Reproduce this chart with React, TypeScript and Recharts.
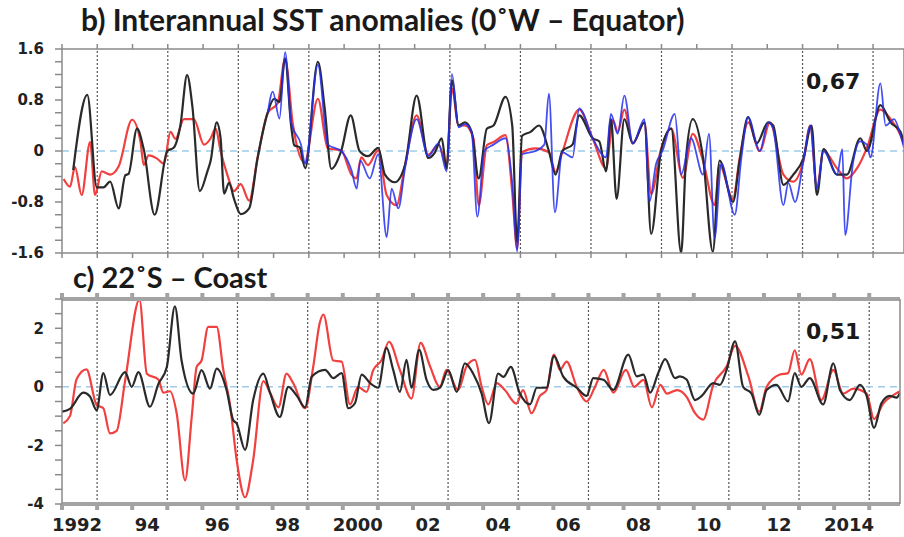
import React from 'react';
import { LineChart, Line, XAxis, YAxis, ReferenceLine } from 'recharts';

type Pt = [number, number];

// time axis (decimal years)
const X_START = 1991.573;
const X_END = 2015.45;

const labelYears = [1992, 1994, 1996, 1998, 2000, 2002, 2004, 2006, 2008, 2010, 2012, 2014];
const yearLabels = ['1992', '94', '96', '98', '2000', '02', '04', '06', '08', '10', '12', '2014'];

const topTicks = [-1.6, -1.4, -1.2, -1, -0.8, -0.6, -0.4, -0.2, 0, 0.2, 0.4, 0.6, 0.8, 1, 1.2, 1.4, 1.6];
const topMajor = [-1.6, -0.8, 0, 0.8, 1.6];
const botTicks = [-4, -3.5, -3, -2.5, -2, -1.5, -1, -0.5, 0, 0.5, 1, 1.5, 2, 2.5, 3];
const botMajor = [-4, -2, 0, 2];

// b) 0°W - Equator
const topBlack: Pt[] = [
  [1991.89, -0.3], [1992.29, 0.88], [1992.56, -0.57], [1992.75, -0.57], [1992.94, -0.48], [1993.18, -0.9],
  [1993.37, -0.38], [1993.46, -0.36], [1993.7, 0.35], [1993.89, 0.03], [1994.2, -1.0], [1994.56, 0],
  [1994.74, 0.05], [1994.93, 0.4], [1995.12, 1.19], [1995.27, 0.7], [1995.48, -0.63], [1995.69, -0.33],
  [1995.79, -0.15], [1995.96, 0.45], [1996.07, 0.2], [1996.17, -0.67], [1996.31, -0.5], [1996.45, -0.75],
  [1996.64, -0.99], [1996.88, -0.9], [1997.12, -0.11], [1997.41, 0.61], [1997.59, 0.82], [1997.74, 0.77],
  [1997.9, 1.45], [1998.07, 0.4], [1998.16, 0.09], [1998.31, 0.06], [1998.47, -0.27], [1998.83, 1.4],
  [1999.02, 0.68], [1999.21, -0.28], [1999.49, 0.0], [1999.76, 0.56], [2000.01, 0], [2000.25, -0.08],
  [2000.54, 0.05], [2000.73, -0.37], [2001.01, -0.49], [2001.3, -0.22], [2001.63, 0.87], [2001.96, -0.11],
  [2002.15, -0.02], [2002.34, 0.2], [2002.48, -0.28], [2002.63, 1.11], [2002.82, 0.4], [2003.0, 0.45],
  [2003.19, 0.3], [2003.39, -0.43], [2003.62, 0.35], [2003.81, 0.4], [2004.15, 0.85], [2004.34, 0.4],
  [2004.48, -1.43], [2004.62, 0.24], [2004.86, 0.3], [2005.1, 0.4], [2005.38, 0], [2005.57, -0.37],
  [2005.76, 0], [2006.05, 0.1], [2006.24, 0.56], [2006.62, 0.2], [2006.81, 0.15], [2007.0, -0.32],
  [2007.14, 0.5], [2007.3, -0.75], [2007.52, 0.5], [2007.76, 0.12], [2008.09, 0.45], [2008.28, -1.3],
  [2008.56, 0], [2008.85, 0.35], [2009.13, -1.6], [2009.27, -0.1], [2009.46, 0.5], [2009.75, -0.1],
  [2010.03, -1.58], [2010.22, -0.15], [2010.6, -0.8], [2010.79, -0.15], [2011.03, 0.53], [2011.27, 0.12],
  [2011.6, 0.45], [2011.74, 0.4], [2012.03, -0.53], [2012.31, -0.37], [2012.6, -0.11], [2012.83, 0.4],
  [2012.98, -0.69], [2013.17, 0.03], [2013.55, -0.37], [2013.83, -0.37], [2014.21, 0.2], [2014.4, 0],
  [2014.78, 0.72], [2015.07, 0.45], [2015.35, 0.3], [2015.45, 0.1],
];

const topRed: Pt[] = [
  [1991.62, -0.44], [1991.8, -0.56], [1991.94, -0.25], [1992.13, -0.69], [1992.37, 0.14], [1992.51, -0.69],
  [1992.7, -0.32], [1992.94, -0.37], [1993.18, -0.24], [1993.56, 0.49], [1993.8, 0.14], [1993.89, -0.22],
  [1994.03, -0.07], [1994.27, -0.12], [1994.46, -0.2], [1994.65, 0.3], [1994.79, 0.19], [1995.03, 0.5],
  [1995.31, 0.5], [1995.6, 0.1], [1995.79, 0.2], [1995.93, 0.35], [1996.07, 0], [1996.26, -0.37],
  [1996.45, -0.63], [1996.64, -0.52], [1996.88, -0.78], [1997.12, -0.1], [1997.41, 0.6], [1997.69, 0.75],
  [1997.9, 1.45], [1998.12, 0.42], [1998.45, -0.18], [1998.83, 0.82], [1999.11, 0.04], [1999.49, 0.01],
  [1999.78, -0.37], [1999.92, -0.43], [2000.06, -0.1], [2000.25, -0.22], [2000.54, 0.01], [2000.78, -0.69],
  [2001.06, -0.85], [2001.3, -0.22], [2001.63, 0.56], [2001.96, -0.06], [2002.25, 0.1], [2002.48, -0.22],
  [2002.63, 0.98], [2002.82, 0.4], [2003.0, 0.4], [2003.24, 0.2], [2003.39, -0.85], [2003.62, 0.09],
  [2003.81, 0.14], [2004.15, 0.25], [2004.34, -0.64], [2004.48, -1.53], [2004.62, -0.02], [2005.0, 0.04],
  [2005.38, -0.02], [2005.57, -0.33], [2005.76, -0.02], [2006.24, 0.65], [2006.62, 0.2], [2007.0, -0.27],
  [2007.2, 0.48], [2007.33, 0.3], [2007.52, 0.65], [2007.76, 0.12], [2008.09, 0.45], [2008.28, -0.67],
  [2008.56, 0.03], [2008.85, 0.35], [2009.18, -0.42], [2009.46, 0.27], [2009.75, -0.15], [2010.08, -0.85],
  [2010.22, -0.22], [2010.6, -0.75], [2010.79, -0.11], [2011.03, 0.45], [2011.36, 0.0], [2011.65, 0.45],
  [2012.03, -0.37], [2012.31, -0.48], [2012.6, -0.15], [2012.79, 0.4], [2012.98, -0.57], [2013.17, 0],
  [2013.55, -0.27], [2013.83, -0.43], [2014.12, -0.27], [2014.4, 0.05], [2014.78, 0.65], [2015.07, 0.5],
  [2015.35, 0.25], [2015.45, 0.1],
];

const topBlue: Pt[] = [
  [1997.41, 0.6], [1997.55, 0.93], [1997.74, 0.51], [1997.9, 1.55], [1998.07, 0.45], [1998.35, 0.1],
  [1998.47, -0.2], [1998.83, 1.35], [1999.11, 0.1], [1999.49, 0.0], [1999.78, -0.3], [1999.93, -0.59],
  [2000.03, -0.15], [2000.3, -0.43], [2000.54, -0.05], [2000.78, -1.35], [2000.92, -0.59], [2001.11, -0.9],
  [2001.3, -0.27], [2001.63, 0.5], [2001.96, -0.08], [2002.25, 0.12], [2002.48, -0.32], [2002.63, 1.21],
  [2002.82, 0.37], [2003.0, 0.42], [2003.19, 0.3], [2003.35, -1.03], [2003.55, 0.0], [2003.81, 0.1],
  [2004.15, 0.2], [2004.34, -0.5], [2004.48, -1.58], [2004.62, -0.05], [2005.0, 0.0], [2005.25, 0.1],
  [2005.38, 0.9], [2005.55, -0.96], [2005.76, -0.02], [2006.05, -0.1], [2006.24, 0.67], [2006.62, 0.2],
  [2007.0, -0.1], [2007.14, 0.58], [2007.33, 0.27], [2007.52, 0.87], [2007.76, 0.12], [2008.09, 0.5],
  [2008.23, -0.8], [2008.42, -0.2], [2008.6, 0.0], [2008.95, 0.58], [2009.13, -0.37], [2009.41, 0.2],
  [2009.75, -0.37], [2009.92, 0.27], [2010.08, -1.37], [2010.27, -0.2], [2010.65, -1.0], [2010.84, -0.1],
  [2011.03, 0.53], [2011.36, 0.0], [2011.6, 0.45], [2011.74, 0.35], [2012.03, -0.85], [2012.17, -0.5],
  [2012.36, -0.8], [2012.6, -0.15], [2012.79, 0.4], [2012.98, -0.6], [2013.17, 0.0], [2013.55, -0.37],
  [2013.7, 0.03], [2013.78, -1.32], [2014.0, -0.2], [2014.21, 0.15], [2014.4, 0.1], [2014.5, -0.1],
  [2014.78, 1.06], [2014.93, 0.4], [2015.17, 0.5], [2015.35, 0.25], [2015.45, 0.05],
];

// c) 22°S - Coast
const botBlack: Pt[] = [
  [1991.57, -0.85], [1991.8, -0.75], [1992.18, -0.2], [1992.37, -0.33], [1992.56, -0.8], [1992.75, 0.47],
  [1992.94, -0.28], [1993.37, 0.5], [1993.56, 0.0], [1993.75, 0.5], [1994.08, -0.68], [1994.32, 0.1],
  [1994.56, 0.68], [1994.79, 2.75], [1994.98, 0.9], [1995.31, -0.23], [1995.55, 0.57], [1995.79, -0.06],
  [1995.98, 0.62], [1996.26, -0.1], [1996.45, -1.13], [1996.55, -1.25], [1996.79, -2.15], [1997.02, -0.45],
  [1997.31, 0.45], [1997.5, -0.2], [1997.78, -1.03], [1998.02, 0.0], [1998.26, -0.3], [1998.5, -0.7],
  [1998.69, 0.35], [1999.07, 0.58], [1999.3, 0.3], [1999.54, 0.47], [1999.73, -0.73], [1999.92, -0.56],
  [2000.11, 0.42], [2000.35, 0.13], [2000.58, -0.03], [2000.82, 1.33], [2001.01, 0.58], [2001.2, -0.17],
  [2001.39, 0.92], [2001.53, -0.03], [2001.75, 1.26], [2001.96, 0.24], [2002.15, -0.1], [2002.34, -0.03],
  [2002.58, 0.57], [2002.82, -0.17], [2003.05, 0.8], [2003.29, 0.45], [2003.53, -0.23], [2003.74, -1.24],
  [2004.0, 0.45], [2004.15, 0.34], [2004.36, 0.68], [2004.62, -0.23], [2004.91, -0.6], [2005.1, -0.03],
  [2005.38, -0.03], [2005.59, 1.05], [2005.85, 0.36], [2006.24, -0.03], [2006.52, -0.31], [2006.71, 0.3],
  [2007.0, 0.24], [2007.28, -0.1], [2007.71, 1.1], [2007.95, 0.36], [2008.14, 0.42], [2008.33, -0.2],
  [2008.56, 0.47], [2008.76, 0.95], [2009.04, 0.3], [2009.18, 0.36], [2009.37, 0.25], [2009.61, -0.45],
  [2009.8, -0.31], [2010.13, 0.13], [2010.32, 0.07], [2010.51, 0.58], [2010.75, 1.55], [2010.98, 0.0],
  [2011.22, -0.23], [2011.44, -0.96], [2011.65, -0.11], [2011.93, 0.07], [2012.26, -0.5], [2012.45, 0.47],
  [2012.64, 0.0], [2012.88, 0.3], [2013.26, -0.6], [2013.55, 0.8], [2013.74, -0.11], [2014.02, -0.45],
  [2014.31, 0.07], [2014.5, -0.31], [2014.71, -1.4], [2014.92, -0.56], [2015.16, -0.31], [2015.35, -0.37],
  [2015.45, -0.2],
];

const botRed: Pt[] = [
  [1991.61, -1.24], [1991.8, -1.0], [1991.99, 0.27], [1992.27, 0.6], [1992.56, -0.62], [1992.75, -0.73],
  [1992.94, -1.59], [1993.13, -1.5], [1993.37, 0.2], [1993.78, 2.98], [1993.99, 0.45], [1994.32, 0.25],
  [1994.46, -0.2], [1994.65, -0.15], [1994.84, -0.9], [1995.08, -3.19], [1995.27, -1.02], [1995.41, 0.68],
  [1995.55, 0.9], [1995.74, 2.05], [1995.98, 2.05], [1996.17, 0.57], [1996.36, -0.6], [1996.55, -2.5],
  [1996.79, -3.77], [1997.02, -2.5], [1997.31, 0.2], [1997.5, -0.2], [1997.74, -0.7], [1997.97, 0.45],
  [1998.16, 0.13], [1998.5, -0.73], [1998.73, 0.68], [1998.92, 2.2], [1999.02, 2.47], [1999.3, 0.9],
  [1999.54, 0.86], [1999.78, -0.6], [2000.01, 0.0], [2000.25, -0.17], [2000.44, 0.57], [2000.68, 0.92],
  [2000.89, 1.54], [2001.2, 0.58], [2001.53, -0.4], [2001.79, 1.5], [2002.06, 0.7], [2002.34, 0.0],
  [2002.53, 0.58], [2002.86, -0.11], [2003.1, 0.7], [2003.34, 0.92], [2003.53, 0.0], [2003.72, -0.6],
  [2003.96, 0.13], [2004.19, -0.11], [2004.52, -0.57], [2004.71, -0.11], [2004.95, -0.9], [2005.19, -0.31],
  [2005.38, -0.11], [2005.59, 1.1], [2005.76, 0.58], [2005.95, 0.86], [2006.24, 0.0], [2006.52, -0.5],
  [2006.76, 0.0], [2007.01, 0.58], [2007.28, -0.2], [2007.64, 0.58], [2007.88, 0.0], [2008.14, 0.24],
  [2008.38, -0.7], [2008.62, 0.07], [2008.81, -0.23], [2009.1, -0.11], [2009.37, -0.34], [2009.61, -0.9],
  [2009.84, -1.12], [2010.13, 0.07], [2010.51, 0.7], [2010.75, 1.4], [2011.13, 0.36], [2011.44, -0.85],
  [2011.65, 0.0], [2012.03, 0.42], [2012.26, 0.47], [2012.45, 1.25], [2012.64, 0.42], [2012.88, 0.95],
  [2013.21, -0.45], [2013.55, 0.58], [2013.83, -0.23], [2014.12, -0.06], [2014.5, -0.23], [2014.71, -1.1],
  [2014.97, -0.57], [2015.26, -0.28], [2015.45, -0.15],
];

const toRows = (pts: Pt[]) => pts.map(([t, v]) => ({ t, v }));

const yearTicks = Array.from({ length: 24 }, (_, k) => X_START + k);
const gridLines = Array.from({ length: 12 }, (_, k) => X_START + 1 + 2 * k);

const LABEL_FONT = 'DejaVu Sans';
const tickStyle = { fill: '#222', fontSize: 15, fontWeight: 700, fontFamily: LABEL_FONT };
const frame = '#8a8a8a';

const majorFmt = (major: number[]) => (v: number) => (major.includes(v) ? String(v) : '');
const yearFmt = (v: number) => {
  const i = labelYears.indexOf(v);
  return i >= 0 ? yearLabels[i] : '';
};

const textBase: React.CSSProperties = {
  position: 'absolute',
  whiteSpace: 'nowrap',
  lineHeight: 1,
  color: '#1a1a1a',
  fontWeight: 700,
};

const Grid = () => (
  <>
    {gridLines.map((x) => (
      <ReferenceLine key={x} x={x} stroke="#555" strokeDasharray="2 2" strokeWidth={1.2} />
    ))}
  </>
);

const TopPanel = () => (
  <LineChart width={904} height={280} margin={{ top: 48, right: 0, bottom: 26, left: 0 }}>
    <XAxis
      xAxisId={0}
      dataKey="t"
      type="number"
      domain={[X_START, X_END]}
      allowDataOverflow
      ticks={yearTicks}
      tickFormatter={() => ''}
      height={1}
      tickSize={5}
      stroke={frame}
      strokeWidth={1.5}
    />
    <XAxis
      xAxisId="top"
      orientation="top"
      dataKey="t"
      type="number"
      domain={[X_START, X_END]}
      allowDataOverflow
      ticks={yearTicks}
      tickFormatter={() => ''}
      height={1}
      tickSize={5}
      stroke={frame}
      strokeWidth={1.5}
    />
    <YAxis
      yAxisId={0}
      type="number"
      domain={[-1.6, 1.6]}
      allowDataOverflow
      ticks={topTicks}
      interval={0}
      tickFormatter={majorFmt(topMajor)}
      width={62}
      tickSize={7}
      tickMargin={11}
      tick={tickStyle}
      stroke={frame}
      strokeWidth={1.5}
    />
    <YAxis
      yAxisId="r"
      orientation="right"
      type="number"
      domain={[-1.6, 1.6]}
      ticks={topTicks}
      interval={0}
      tickFormatter={() => ''}
      width={4}
      tickSize={4}
      mirror
      stroke={frame}
      strokeWidth={1.5}
    />
    {Grid()}
    <ReferenceLine y={0} stroke="#9fcbe8" strokeDasharray="7 5" strokeWidth={1.5} />
    <Line data={toRows(topRed)} dataKey="v" type="monotone" stroke="#f0403f" strokeWidth={2.2} dot={false} isAnimationActive={false} />
    <Line data={toRows(topBlack)} dataKey="v" type="monotone" stroke="#2a2a2a" strokeWidth={2.2} dot={false} isAnimationActive={false} />
    <Line data={toRows(topBlue)} dataKey="v" type="monotone" stroke="#2430ee" strokeOpacity={0.85} strokeWidth={1.8} dot={false} isAnimationActive={false} />
  </LineChart>
);

const BottomPanel = () => (
  <LineChart width={904} height={277} margin={{ top: 38, right: 0, bottom: 4, left: 0 }}>
    <XAxis
      xAxisId={0}
      dataKey="t"
      type="number"
      domain={[X_START, X_END]}
      allowDataOverflow
      ticks={yearTicks}
      tickFormatter={() => ''}
      height={1}
      tickSize={6}
      stroke="#a3a3a3"
      strokeWidth={4}
    />
    <XAxis
      xAxisId="lab"
      dataKey="t"
      type="number"
      domain={[X_START, X_END]}
      allowDataOverflow
      ticks={labelYears}
      interval={0}
      tickFormatter={yearFmt}
      height={28}
      tickLine={false}
      axisLine={false}
      tickSize={0}
      tickMargin={13}
      tick={{ ...tickStyle, fontSize: 18 }}
    />
    <XAxis
      xAxisId="top"
      orientation="top"
      dataKey="t"
      type="number"
      domain={[X_START, X_END]}
      allowDataOverflow
      ticks={yearTicks}
      tickFormatter={() => ''}
      height={1}
      tickSize={6}
      stroke="#a3a3a3"
      strokeWidth={4}
    />
    <YAxis
      yAxisId={0}
      type="number"
      domain={[-4, 3]}
      allowDataOverflow
      ticks={botTicks}
      interval={0}
      tickFormatter={majorFmt(botMajor)}
      width={62}
      tickSize={7}
      tickMargin={11}
      tick={tickStyle}
      stroke={frame}
      strokeWidth={1.5}
    />
    <YAxis
      yAxisId="r"
      orientation="right"
      type="number"
      domain={[-4, 3]}
      tick={false}
      tickLine={false}
      width={4}
      stroke={frame}
      strokeWidth={1.5}
    />
    {Grid()}
    <ReferenceLine y={0} stroke="#9fcbe8" strokeDasharray="7 5" strokeWidth={1.5} />
    <Line data={toRows(botRed)} dataKey="v" type="monotone" stroke="#f0403f" strokeWidth={2.2} dot={false} isAnimationActive={false} />
    <Line data={toRows(botBlack)} dataKey="v" type="monotone" stroke="#2a2a2a" strokeWidth={2.2} dot={false} isAnimationActive={false} />
  </LineChart>
);

export default function App() {
  return (
    <div style={{ position: 'absolute', left: 0, top: 0, width: 904, height: 537, background: '#fff', overflow: 'hidden' }}>
      <div style={{ position: 'absolute', left: 0, top: 0 }}>
        <TopPanel />
      </div>
      <div style={{ position: 'absolute', left: 0, top: 260 }}>
        <BottomPanel />
      </div>
      <div style={{ ...textBase, left: 81, top: 4, fontSize: 30, fontFamily: 'Lato' }}>
        b) Interannual SST anomalies (0˚W – Equator)
      </div>
      <div style={{ ...textBase, left: 73, top: 262, fontSize: 29, fontFamily: 'Lato' }}>
        c) 22˚S – Coast
      </div>
      <div style={{ ...textBase, left: 806, top: 71, fontSize: 22, fontFamily: LABEL_FONT }}>0,67</div>
      <div style={{ ...textBase, left: 806, top: 321, fontSize: 22, fontFamily: LABEL_FONT }}>0,51</div>
    </div>
  );
}
